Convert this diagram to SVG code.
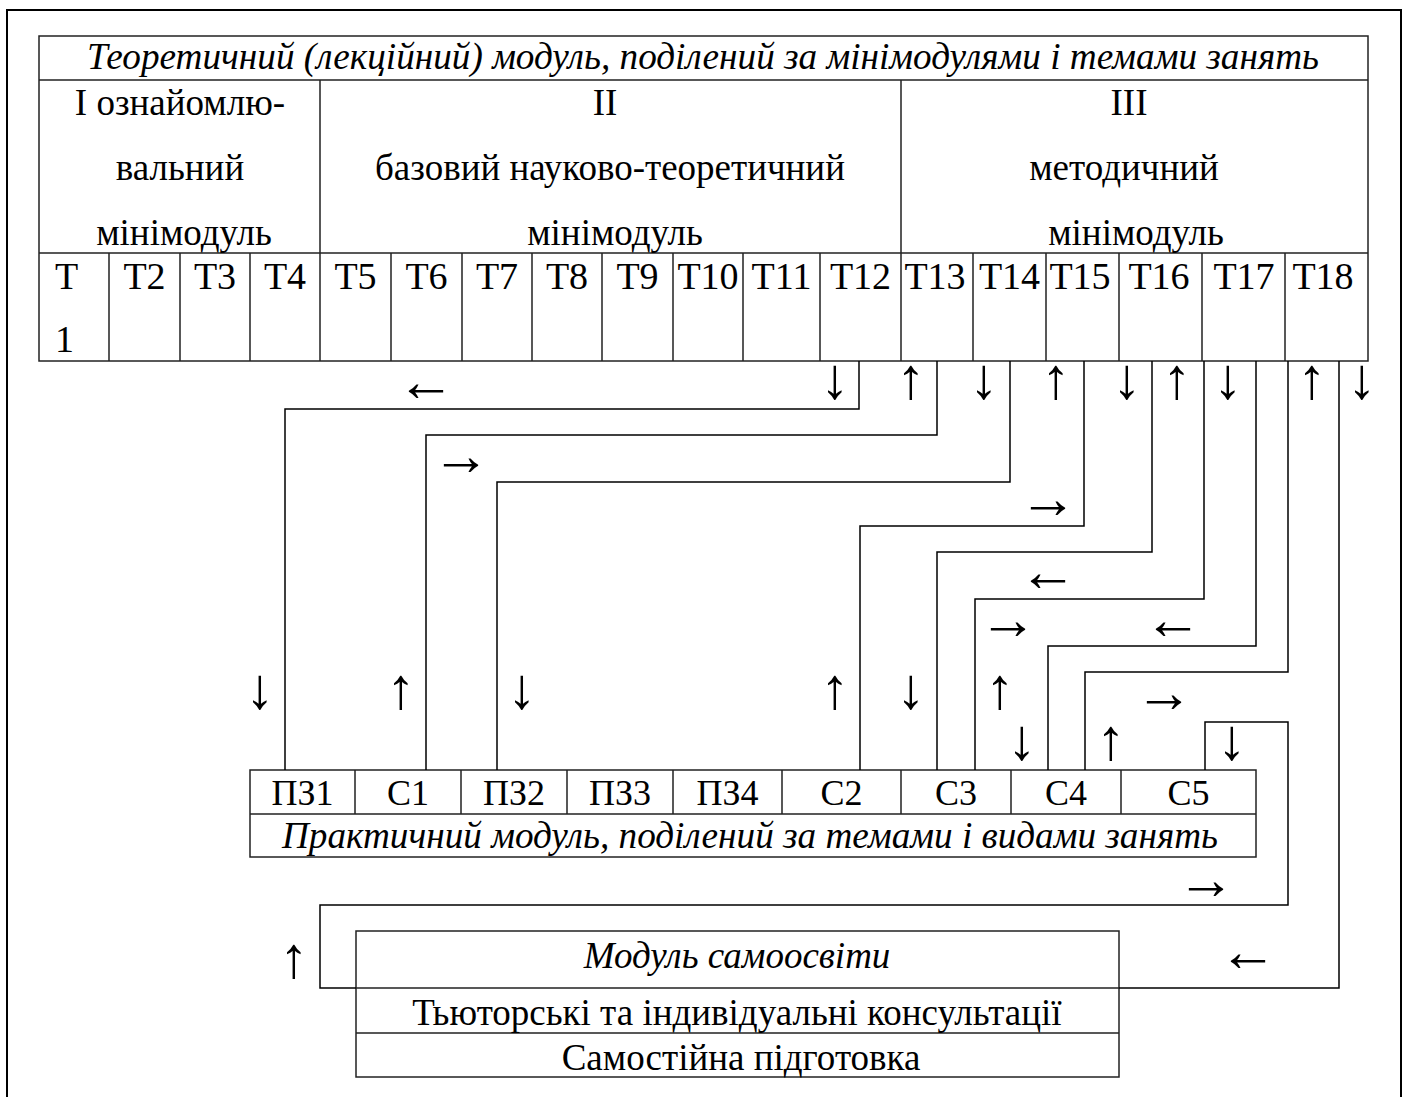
<svg xmlns="http://www.w3.org/2000/svg" width="1409" height="1097" viewBox="0 0 1409 1097">
<style>
.bg{fill:#ffffff}
.frame{fill:none;stroke:#000;stroke-width:2}
.cell{fill:none;stroke:#222;stroke-width:1.5}
.conn{fill:none;stroke:#000;stroke-width:1.5}
.t{font-family:"Liberation Serif","Times New Roman","DejaVu Serif",serif;font-size:37px;fill:#000;text-anchor:middle}
.tc{font-size:38px}
.pc{font-size:36px}
.it{font-style:italic}
.ar{font-family:"Liberation Serif","DejaVu Serif",serif;font-size:58px;fill:#000;text-anchor:middle;dominant-baseline:central}
</style>
<rect class="bg" x="0" y="0" width="1409" height="1097"/>
<g id="frame">
<path class="frame" d="M7,1097 V10 H1401 V1097"/>
</g>
<g id="theory-module">
<rect class="cell" x="39" y="36" width="1329" height="325"/>
<path class="cell" d="M39,80 H1368 M39,253 H1368 M320,80 V253 M901,80 V253"/>
<path class="cell" d="M109,253 V361 M180,253 V361 M250,253 V361 M320,253 V361 M391,253 V361 M462,253 V361 M532,253 V361 M602,253 V361 M673,253 V361 M743,253 V361 M820,253 V361 M901,253 V361 M973,253 V361 M1046,253 V361 M1119,253 V361 M1202,253 V361 M1285,253 V361"/>
<text class="t it" x="703" y="69" textLength="1232" lengthAdjust="spacingAndGlyphs">Теоретичний (лекційний) модуль, поділений за мінімодулями і темами занять</text>
<text class="t" x="180" y="115">I ознайомлю-</text>
<text class="t" x="180" y="180">вальний</text>
<text class="t" x="184" y="245">мінімодуль</text>
<text class="t" x="605" y="115">II</text>
<text class="t" x="610" y="180">базовий науково-теоретичний</text>
<text class="t" x="615" y="245">мінімодуль</text>
<text class="t" x="1129" y="115">III</text>
<text class="t" x="1124" y="180">методичний</text>
<text class="t" x="1136" y="245">мінімодуль</text>
<text class="t tc" x="55" y="289" style="text-anchor:start">Т</text>
<text class="t tc" x="55" y="352" style="text-anchor:start">1</text>
<text class="t tc" x="144.5" y="289">Т2</text>
<text class="t tc" x="215" y="289">Т3</text>
<text class="t tc" x="285" y="289">Т4</text>
<text class="t tc" x="355.5" y="289">Т5</text>
<text class="t tc" x="426.5" y="289">Т6</text>
<text class="t tc" x="497" y="289">Т7</text>
<text class="t tc" x="567" y="289">Т8</text>
<text class="t tc" x="637.5" y="289">Т9</text>
<text class="t tc" x="708" y="289">Т10</text>
<text class="t tc" x="781.5" y="289">Т11</text>
<text class="t tc" x="860.5" y="289">Т12</text>
<text class="t tc" x="935" y="289">Т13</text>
<text class="t tc" x="1009.5" y="289">Т14</text>
<text class="t tc" x="1080" y="289">Т15</text>
<text class="t tc" x="1159" y="289">Т16</text>
<text class="t tc" x="1244" y="289">Т17</text>
<text class="t tc" x="1323" y="289">Т18</text>
</g>
<g id="practical-module">
<rect class="cell" x="250" y="770" width="1006" height="87"/>
<path class="cell" d="M250,814 H1256 M355,770 V814 M461,770 V814 M567,770 V814 M673,770 V814 M782,770 V814 M901,770 V814 M1011,770 V814 M1121,770 V814"/>
<text class="t pc" x="302.5" y="805">ПЗ1</text>
<text class="t pc" x="408" y="805">С1</text>
<text class="t pc" x="514" y="805">ПЗ2</text>
<text class="t pc" x="620" y="805">ПЗ3</text>
<text class="t pc" x="727.5" y="805">ПЗ4</text>
<text class="t pc" x="841.5" y="805">С2</text>
<text class="t pc" x="956" y="805">С3</text>
<text class="t pc" x="1066" y="805">С4</text>
<text class="t pc" x="1188.5" y="805">С5</text>
<text class="t it" x="750" y="848" textLength="936" lengthAdjust="spacingAndGlyphs">Практичний модуль, поділений за темами і видами занять</text>
</g>
<g id="self-education-module">
<rect class="cell" x="356" y="931" width="763" height="146"/>
<path class="cell" d="M356,988 H1119 M356,1033 H1119"/>
<text class="t it" x="737" y="968">Модуль самоосвіти</text>
<text class="t" x="737" y="1025">Тьюторські та індивідуальні консультації</text>
<text class="t" x="741" y="1070">Самостійна підготовка</text>
</g>
<g id="connectors">
<path class="conn" d="M859,361 V409 H285 V770"/>
<path class="conn" d="M937,361 V435 H426 V770"/>
<path class="conn" d="M1010,361 V482 H497 V770"/>
<path class="conn" d="M1084,361 V526 H860 V770"/>
<path class="conn" d="M1152,361 V552 H937 V770"/>
<path class="conn" d="M1204,361 V599 H975 V770"/>
<path class="conn" d="M1256,361 V646 H1048 V770"/>
<path class="conn" d="M1288,361 V672 H1085 V770"/>
<path class="conn" d="M1205,770 V722 H1288 V905 H320 V988 H356"/>
<path class="conn" d="M1339,361 V988 H1119"/>
<g id="arrow-labels">
<text class="ar" x="835" y="378">↓</text>
<text class="ar" x="911" y="378">↑</text>
<text class="ar" x="984" y="378">↓</text>
<text class="ar" x="1056" y="378">↑</text>
<text class="ar" x="1127" y="378">↓</text>
<text class="ar" x="1177" y="378">↑</text>
<text class="ar" x="1228" y="378">↓</text>
<text class="ar" x="1312" y="378">↑</text>
<text class="ar" x="1362" y="378">↓</text>
<text class="ar" x="426" y="381">←</text>
<text class="ar" x="461" y="455">→</text>
<text class="ar" x="1048" y="498">→</text>
<text class="ar" x="1048" y="571">←</text>
<text class="ar" x="1008" y="619">→</text>
<text class="ar" x="1173" y="619">←</text>
<text class="ar" x="1164" y="692">→</text>
<text class="ar" x="260" y="688">↓</text>
<text class="ar" x="401" y="688">↑</text>
<text class="ar" x="522" y="688">↓</text>
<text class="ar" x="835" y="688">↑</text>
<text class="ar" x="911" y="688">↓</text>
<text class="ar" x="1000" y="688">↑</text>
<text class="ar" x="1022" y="739">↓</text>
<text class="ar" x="1111" y="739">↑</text>
<text class="ar" x="1232" y="739">↓</text>
<text class="ar" x="1206" y="879">→</text>
<text class="ar" x="1248" y="951">←</text>
<text class="ar" x="294" y="957">↑</text>
</g>
</g>
</svg>
